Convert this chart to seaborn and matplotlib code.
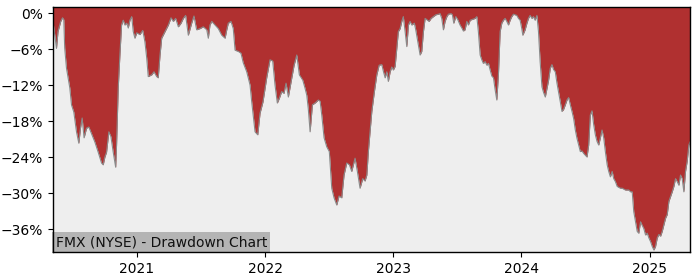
import numpy as np
import pandas as pd
import matplotlib
matplotlib.use("Agg")
import matplotlib.pyplot as plt
import matplotlib.ticker as mticker
import seaborn as sns

# decimal-year timestamps
years = [
    2020.346, 2020.373, 2020.385, 2020.406, 2020.420, 2020.430, 2020.437, 2020.451, 2020.477, 2020.490,
    2020.508, 2020.529, 2020.547, 2020.560, 2020.573, 2020.588, 2020.607, 2020.625, 2020.646, 2020.672,
    2020.698, 2020.724, 2020.737, 2020.750, 2020.763, 2020.781, 2020.797, 2020.815, 2020.834, 2020.841,
    2020.854, 2020.867, 2020.880, 2020.893, 2020.906, 2020.920, 2020.932, 2020.945, 2020.959, 2020.971,
    2020.984, 2020.998, 2021.023, 2021.045, 2021.062, 2021.076, 2021.088, 2021.115, 2021.133, 2021.154,
    2021.166, 2021.180, 2021.193, 2021.219, 2021.245, 2021.266, 2021.284, 2021.302, 2021.323, 2021.344,
    2021.362, 2021.380, 2021.401, 2021.427, 2021.445, 2021.466, 2021.492, 2021.518, 2021.545, 2021.557,
    2021.570, 2021.584, 2021.609, 2021.635, 2021.662, 2021.688, 2021.701, 2021.713, 2021.734, 2021.752,
    2021.766, 2021.791, 2021.812, 2021.830, 2021.857, 2021.883, 2021.896, 2021.922, 2021.943, 2021.961,
    2021.984, 2022.013, 2022.039, 2022.060, 2022.078, 2022.096, 2022.112, 2022.130, 2022.148, 2022.164,
    2022.182, 2022.209, 2022.227, 2022.248, 2022.268, 2022.295, 2022.312, 2022.326, 2022.338, 2022.352,
    2022.370, 2022.391, 2022.416, 2022.430, 2022.443, 2022.461, 2022.482, 2022.502, 2022.521, 2022.539,
    2022.560, 2022.578, 2022.599, 2022.617, 2022.638, 2022.659, 2022.677, 2022.703, 2022.721, 2022.742,
    2022.763, 2022.781, 2022.795, 2022.807, 2022.820, 2022.834, 2022.854, 2022.873, 2022.891, 2022.912,
    2022.924, 2022.938, 2022.951, 2022.963, 2022.977, 2022.990, 2023.002, 2023.016, 2023.029, 2023.041,
    2023.055, 2023.068, 2023.080, 2023.094, 2023.107, 2023.120, 2023.133, 2023.146, 2023.166, 2023.177,
    2023.193, 2023.211, 2023.224, 2023.237, 2023.250, 2023.263, 2023.281, 2023.297, 2023.315, 2023.334,
    2023.354, 2023.367, 2023.380, 2023.393, 2023.406, 2023.420, 2023.432, 2023.453, 2023.463, 2023.474,
    2023.490, 2023.505, 2023.523, 2023.537, 2023.549, 2023.562, 2023.576, 2023.588, 2023.602, 2023.615,
    2023.627, 2023.641, 2023.654, 2023.666, 2023.680, 2023.693, 2023.705, 2023.719, 2023.732, 2023.745,
    2023.758, 2023.771, 2023.784, 2023.797, 2023.810, 2023.823, 2023.836, 2023.849, 2023.862, 2023.875,
    2023.888, 2023.901, 2023.914, 2023.927, 2023.940, 2023.953, 2023.966, 2023.979, 2023.992, 2024.005,
    2024.013, 2024.031, 2024.045, 2024.057, 2024.070, 2024.084, 2024.096, 2024.109, 2024.123, 2024.135,
    2024.148, 2024.162, 2024.174, 2024.188, 2024.201, 2024.213, 2024.227, 2024.240, 2024.252, 2024.266,
    2024.279, 2024.291, 2024.305, 2024.318, 2024.330, 2024.344, 2024.357, 2024.370, 2024.383, 2024.396,
    2024.409, 2024.422, 2024.435, 2024.448, 2024.461, 2024.474, 2024.487, 2024.500, 2024.513, 2024.526,
    2024.539, 2024.552, 2024.565, 2024.578, 2024.591, 2024.604, 2024.617, 2024.630, 2024.643, 2024.656,
    2024.670, 2024.682, 2024.695, 2024.709, 2024.721, 2024.734, 2024.748, 2024.773, 2024.787, 2024.812,
    2024.838, 2024.852, 2024.865, 2024.877, 2024.891, 2024.904, 2024.916, 2024.930, 2024.943, 2024.955,
    2024.969, 2024.982, 2024.995, 2025.008, 2025.021, 2025.034, 2025.047, 2025.060, 2025.073, 2025.086,
    2025.099, 2025.112, 2025.125, 2025.138, 2025.151, 2025.164, 2025.177, 2025.190, 2025.203, 2025.216,
    2025.229, 2025.242, 2025.255, 2025.268, 2025.281, 2025.294, 2025.307, 2025.316,
]

# drawdown in percent
drawdown = [
    -1.4, -5.9, -3.1, -1.4, -0.8, -1.1, -5.8, -9.2, -12.5, -15.3,
    -16.5, -19.8, -21.7, -19.2, -17.5, -20.8, -19.2, -19.0, -20.1, -21.5,
    -23.2, -25.0, -25.3, -24.0, -23.2, -19.8, -20.6, -23.2, -25.7, -22.0,
    -12.5, -7.0, -2.0, -1.2, -2.0, -1.7, -2.5, -1.2, -0.6, -3.1,
    -4.2, -3.3, -3.6, -2.9, -4.8, -7.5, -10.6, -10.3, -9.8, -10.6,
    -10.8, -7.0, -4.2, -3.1, -2.0, -0.8, -1.4, -0.9, -2.3, -1.7,
    -0.9, -0.4, -3.7, -1.7, -0.5, -2.8, -2.6, -2.3, -2.8, -4.2,
    -2.0, -1.4, -2.0, -2.6, -3.7, -4.2, -2.8, -1.7, -1.4, -2.6,
    -6.2, -6.4, -6.7, -8.3, -9.8, -12.0, -14.8, -19.8, -20.3, -16.7,
    -14.8, -10.8, -7.8, -8.0, -12.0, -15.0, -14.2, -13.1, -13.4, -11.7,
    -14.0, -10.8, -8.7, -7.0, -10.3, -11.2, -12.5, -13.7, -16.0, -19.8,
    -15.3, -15.0, -14.5, -14.7, -17.0, -20.8, -22.3, -23.1, -29.2, -30.8,
    -32.0, -30.5, -30.8, -27.0, -25.0, -25.3, -26.4, -24.2, -26.4, -29.2,
    -27.6, -28.0, -27.0, -23.1, -19.8, -16.4, -13.1, -10.3, -8.7, -8.6,
    -9.7, -10.8, -9.8, -11.4, -9.8, -9.0, -9.5, -8.9, -5.9, -3.1,
    -2.6, -1.4, -0.6, -3.1, -5.6, -2.0, -1.4, -2.0, -1.7, -2.8,
    -4.8, -7.0, -6.4, -3.1, -0.9, -1.1, -1.4, -0.9, -0.6, -0.3,
    -0.2, -0.1, -0.9, -2.8, -1.4, -0.6, -0.2, -0.1, -0.3, -1.7,
    -0.6, -1.1, -2.0, -2.5, -3.0, -2.8, -1.4, -2.0, -1.2, -1.1,
    -1.0, -0.9, -0.6, -3.1, -7.0, -7.8, -8.4, -8.1, -8.7, -8.4,
    -9.5, -10.5, -10.8, -12.8, -14.5, -10.1, -3.1, -1.7, -1.2, -0.9,
    -1.4, -2.0, -1.2, -0.6, -0.2, -0.3, -0.4, -0.9, -1.2, -2.6,
    -3.7, -2.8, -1.7, -0.9, -0.4, -0.9, -0.6, -1.2, -0.4, -3.1,
    -8.1, -12.3, -13.2, -14.0, -12.6, -11.3, -9.2, -8.6, -9.4, -9.8,
    -11.7, -13.1, -14.8, -16.4, -16.1, -15.3, -14.5, -14.1, -15.3, -16.4,
    -17.6, -19.5, -20.9, -22.0, -23.1, -23.0, -23.4, -23.7, -24.0, -22.0,
    -17.0, -16.3, -18.6, -20.3, -21.4, -22.0, -20.8, -19.5, -20.8, -23.1,
    -25.3, -26.4, -27.3, -26.4, -27.6, -28.1, -28.9, -29.2, -29.2, -29.5,
    -29.5, -29.8, -29.8, -33.1, -34.8, -36.4, -36.7, -34.8, -35.4, -35.9,
    -37.0, -36.7, -37.5, -38.1, -38.9, -39.5, -38.9, -37.5, -36.9, -37.2,
    -36.4, -35.3, -34.2, -33.6, -31.4, -30.6, -29.8, -28.9, -27.6, -28.1,
    -28.7, -27.0, -27.6, -29.8, -26.4, -24.7, -22.0, -21.5,
]

yticks = [0, -6, -12, -18, -24, -30, -36]
title_text = "FMX (NYSE) - Drawdown Chart"


def dec_to_date(y):
    yr = int(np.floor(y))
    start = pd.Timestamp(year=yr, month=1, day=1)
    end = pd.Timestamp(year=yr + 1, month=1, day=1)
    return start + (end - start) * (y - yr)


dates = [dec_to_date(y) for y in years]
df = pd.DataFrame({"date": dates, "dd": drawdown})

fig = plt.figure(figsize=(7, 2.8), dpi=100)
ax = fig.add_axes([53 / 700, 1 - 252 / 280, (690 - 53) / 700, (252 - 7) / 280])
ax.set_facecolor("#eeeeee")

ymin, ymax = -39.83, 1.0
ax.fill_between(df["date"], df["dd"], ymax + 1, color="#b03030", linewidth=0, zorder=2)
sns.lineplot(data=df, x="date", y="dd", ax=ax, color="#8a8a8a", linewidth=0.8, zorder=3)

ax.set_xlim(df["date"].iloc[0], df["date"].iloc[-1])
ax.set_ylim(ymin, ymax)
ax.set_yticks(yticks)
ax.yaxis.set_major_formatter(mticker.FuncFormatter(
    lambda v, p: ("%d%%" % round(v)).replace("-", "\u2212")))
ax.xaxis.set_major_locator(matplotlib.dates.YearLocator())
ax.xaxis.set_major_formatter(matplotlib.dates.DateFormatter("%Y"))
ax.set_xlabel("")
ax.set_ylabel("")
ax.tick_params(labelsize=10)
for s in ax.spines.values():
    s.set_color("black")
    s.set_linewidth(1.0)
    s.set_zorder(6)

ax.text(0.004, 0.012, title_text, transform=ax.transAxes, ha="left", va="bottom",
        fontsize=10, color="#111111", zorder=5,
        bbox=dict(facecolor="#b4b4b4", edgecolor="none", pad=2.5))

fig.savefig("out.png", dpi=100)
